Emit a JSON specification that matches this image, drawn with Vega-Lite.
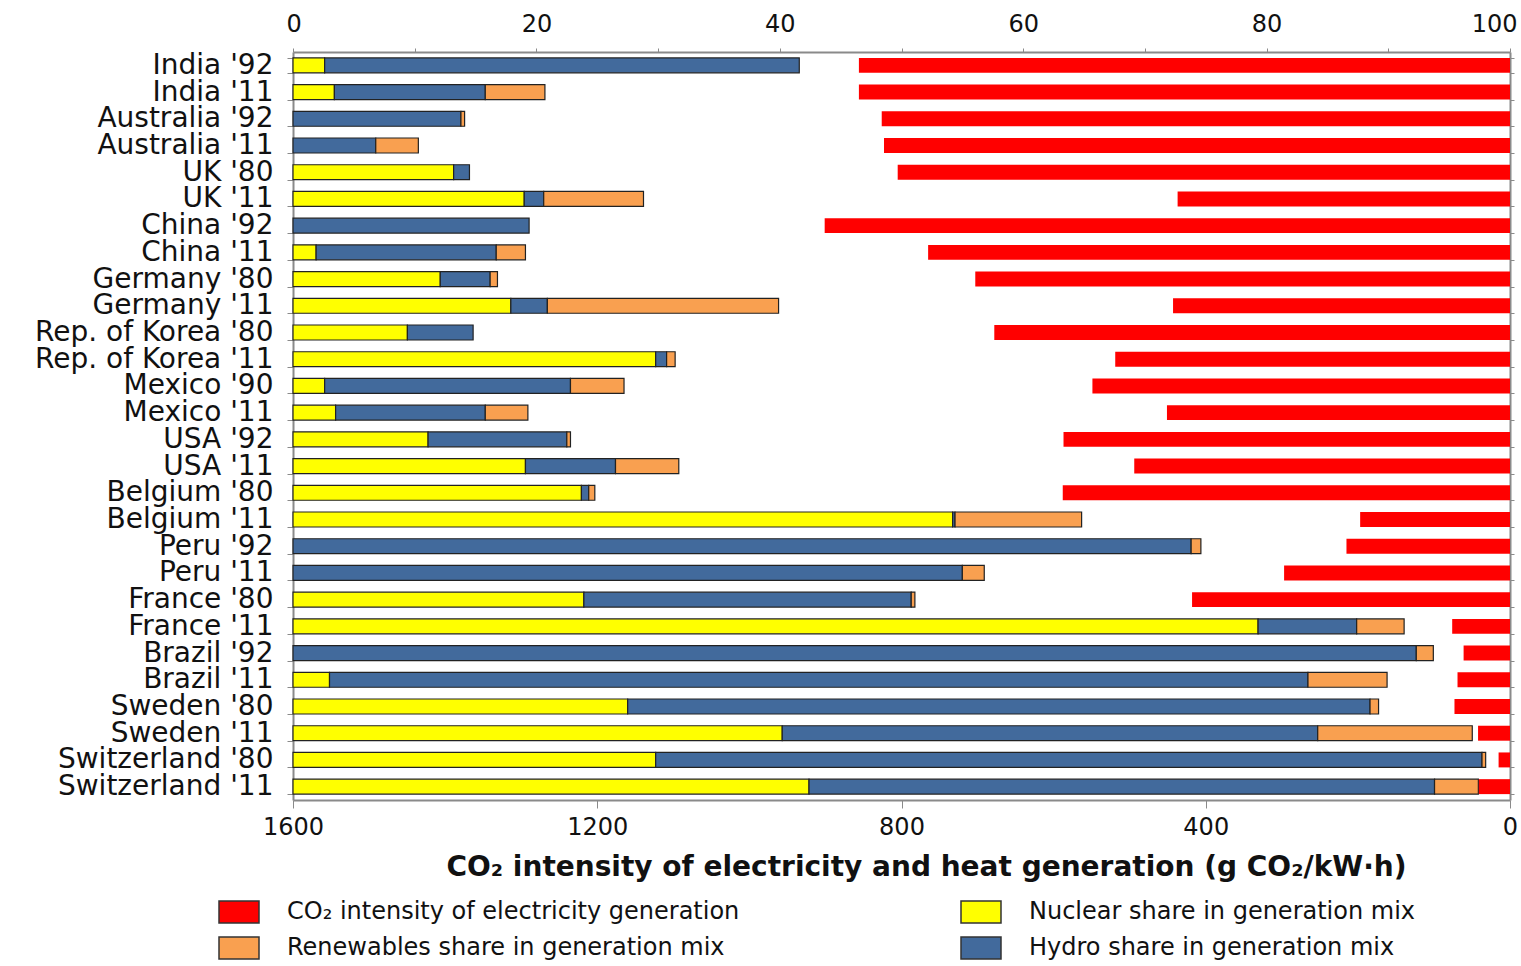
{
"$schema": "https://vega.github.io/schema/vega-lite/v6.json",
"width": 1217,
"height": 748,
"autosize": {"type": "none"},
"padding": {"left": 293, "top": 52, "right": 11, "bottom": 166},
"background": "white",
"config": {
  "font": "DejaVu Sans",
  "view": {"stroke": null},
  "axis": {"labelColor": "#111", "domainColor": "#8a8a8a", "tickColor": "#8a8a8a", "grid": false, "domainWidth": 2, "labelOverlap": false}
},
"datasets": {
  "co2": [
    {"c": "India '92", "g": 856}, {"c": "India '11", "g": 856},
    {"c": "Australia '92", "g": 826}, {"c": "Australia '11", "g": 823},
    {"c": "UK '80", "g": 805}, {"c": "UK '11", "g": 437},
    {"c": "China '92", "g": 901}, {"c": "China '11", "g": 765},
    {"c": "Germany '80", "g": 703}, {"c": "Germany '11", "g": 443},
    {"c": "Rep. of Korea '80", "g": 678}, {"c": "Rep. of Korea '11", "g": 519},
    {"c": "Mexico '90", "g": 549}, {"c": "Mexico '11", "g": 451},
    {"c": "USA '92", "g": 587}, {"c": "USA '11", "g": 494},
    {"c": "Belgium '80", "g": 588}, {"c": "Belgium '11", "g": 197},
    {"c": "Peru '92", "g": 215}, {"c": "Peru '11", "g": 297},
    {"c": "France '80", "g": 418}, {"c": "France '11", "g": 76},
    {"c": "Brazil '92", "g": 61}, {"c": "Brazil '11", "g": 69},
    {"c": "Sweden '80", "g": 73}, {"c": "Sweden '11", "g": 42},
    {"c": "Switzerland '80", "g": 15}, {"c": "Switzerland '11", "g": 41}
  ],
  "shares": [
    {"c": "India '92", "s": "Nuclear", "v": 2.6, "o": 1},
    {"c": "India '92", "s": "Hydro", "v": 39.0, "o": 2},
    {"c": "India '11", "s": "Nuclear", "v": 3.4, "o": 1},
    {"c": "India '11", "s": "Hydro", "v": 12.4, "o": 2},
    {"c": "India '11", "s": "Renewables", "v": 4.9, "o": 3},
    {"c": "Australia '92", "s": "Hydro", "v": 13.8, "o": 2},
    {"c": "Australia '92", "s": "Renewables", "v": 0.3, "o": 3},
    {"c": "Australia '11", "s": "Hydro", "v": 6.8, "o": 2},
    {"c": "Australia '11", "s": "Renewables", "v": 3.5, "o": 3},
    {"c": "UK '80", "s": "Nuclear", "v": 13.2, "o": 1},
    {"c": "UK '80", "s": "Hydro", "v": 1.3, "o": 2},
    {"c": "UK '11", "s": "Nuclear", "v": 19.0, "o": 1},
    {"c": "UK '11", "s": "Hydro", "v": 1.6, "o": 2},
    {"c": "UK '11", "s": "Renewables", "v": 8.2, "o": 3},
    {"c": "China '92", "s": "Hydro", "v": 19.4, "o": 2},
    {"c": "China '11", "s": "Nuclear", "v": 1.9, "o": 1},
    {"c": "China '11", "s": "Hydro", "v": 14.8, "o": 2},
    {"c": "China '11", "s": "Renewables", "v": 2.4, "o": 3},
    {"c": "Germany '80", "s": "Nuclear", "v": 12.1, "o": 1},
    {"c": "Germany '80", "s": "Hydro", "v": 4.1, "o": 2},
    {"c": "Germany '80", "s": "Renewables", "v": 0.6, "o": 3},
    {"c": "Germany '11", "s": "Nuclear", "v": 17.9, "o": 1},
    {"c": "Germany '11", "s": "Hydro", "v": 3.0, "o": 2},
    {"c": "Germany '11", "s": "Renewables", "v": 19.0, "o": 3},
    {"c": "Rep. of Korea '80", "s": "Nuclear", "v": 9.4, "o": 1},
    {"c": "Rep. of Korea '80", "s": "Hydro", "v": 5.4, "o": 2},
    {"c": "Rep. of Korea '11", "s": "Nuclear", "v": 29.8, "o": 1},
    {"c": "Rep. of Korea '11", "s": "Hydro", "v": 0.9, "o": 2},
    {"c": "Rep. of Korea '11", "s": "Renewables", "v": 0.7, "o": 3},
    {"c": "Mexico '90", "s": "Nuclear", "v": 2.6, "o": 1},
    {"c": "Mexico '90", "s": "Hydro", "v": 20.2, "o": 2},
    {"c": "Mexico '90", "s": "Renewables", "v": 4.4, "o": 3},
    {"c": "Mexico '11", "s": "Nuclear", "v": 3.5, "o": 1},
    {"c": "Mexico '11", "s": "Hydro", "v": 12.3, "o": 2},
    {"c": "Mexico '11", "s": "Renewables", "v": 3.5, "o": 3},
    {"c": "USA '92", "s": "Nuclear", "v": 11.1, "o": 1},
    {"c": "USA '92", "s": "Hydro", "v": 11.4, "o": 2},
    {"c": "USA '92", "s": "Renewables", "v": 0.3, "o": 3},
    {"c": "USA '11", "s": "Nuclear", "v": 19.1, "o": 1},
    {"c": "USA '11", "s": "Hydro", "v": 7.4, "o": 2},
    {"c": "USA '11", "s": "Renewables", "v": 5.2, "o": 3},
    {"c": "Belgium '80", "s": "Nuclear", "v": 23.7, "o": 1},
    {"c": "Belgium '80", "s": "Hydro", "v": 0.6, "o": 2},
    {"c": "Belgium '80", "s": "Renewables", "v": 0.5, "o": 3},
    {"c": "Belgium '11", "s": "Nuclear", "v": 54.2, "o": 1},
    {"c": "Belgium '11", "s": "Hydro", "v": 0.2, "o": 2},
    {"c": "Belgium '11", "s": "Renewables", "v": 10.4, "o": 3},
    {"c": "Peru '92", "s": "Hydro", "v": 73.8, "o": 2},
    {"c": "Peru '92", "s": "Renewables", "v": 0.8, "o": 3},
    {"c": "Peru '11", "s": "Hydro", "v": 55.0, "o": 2},
    {"c": "Peru '11", "s": "Renewables", "v": 1.8, "o": 3},
    {"c": "France '80", "s": "Nuclear", "v": 23.9, "o": 1},
    {"c": "France '80", "s": "Hydro", "v": 26.9, "o": 2},
    {"c": "France '80", "s": "Renewables", "v": 0.3, "o": 3},
    {"c": "France '11", "s": "Nuclear", "v": 79.3, "o": 1},
    {"c": "France '11", "s": "Hydro", "v": 8.1, "o": 2},
    {"c": "France '11", "s": "Renewables", "v": 3.9, "o": 3},
    {"c": "Brazil '92", "s": "Hydro", "v": 92.3, "o": 2},
    {"c": "Brazil '92", "s": "Renewables", "v": 1.4, "o": 3},
    {"c": "Brazil '11", "s": "Nuclear", "v": 3.0, "o": 1},
    {"c": "Brazil '11", "s": "Hydro", "v": 80.4, "o": 2},
    {"c": "Brazil '11", "s": "Renewables", "v": 6.5, "o": 3},
    {"c": "Sweden '80", "s": "Nuclear", "v": 27.5, "o": 1},
    {"c": "Sweden '80", "s": "Hydro", "v": 61.0, "o": 2},
    {"c": "Sweden '80", "s": "Renewables", "v": 0.7, "o": 3},
    {"c": "Sweden '11", "s": "Nuclear", "v": 40.2, "o": 1},
    {"c": "Sweden '11", "s": "Hydro", "v": 44.0, "o": 2},
    {"c": "Sweden '11", "s": "Renewables", "v": 12.7, "o": 3},
    {"c": "Switzerland '80", "s": "Nuclear", "v": 29.8, "o": 1},
    {"c": "Switzerland '80", "s": "Hydro", "v": 67.9, "o": 2},
    {"c": "Switzerland '80", "s": "Renewables", "v": 0.3, "o": 3},
    {"c": "Switzerland '11", "s": "Nuclear", "v": 42.4, "o": 1},
    {"c": "Switzerland '11", "s": "Hydro", "v": 51.4, "o": 2},
    {"c": "Switzerland '11", "s": "Renewables", "v": 3.6, "o": 3}
  ]
},
"layer": [
  {
    "data": {"name": "shares"},
    "mark": {"type": "bar", "stroke": "#222", "strokeWidth": 1.2},
    "encoding": {
      "y": {
        "field": "c", "type": "nominal",
        "scale": {"domain": ["India '92","India '11","Australia '92","Australia '11","UK '80","UK '11","China '92","China '11","Germany '80","Germany '11","Rep. of Korea '80","Rep. of Korea '11","Mexico '90","Mexico '11","USA '92","USA '11","Belgium '80","Belgium '11","Peru '92","Peru '11","France '80","France '11","Brazil '92","Brazil '11","Sweden '80","Sweden '11","Switzerland '80","Switzerland '11"], "paddingInner": 0.44, "paddingOuter": 0.22},
        "axis": {"orient": "left", "title": null, "tickBand": "extent", "tickSize": 6, "labelFontSize": 28, "labelPadding": 14, "labelLimit": 0}
      },
      "x": {
        "field": "v", "type": "quantitative", "stack": "zero",
        "scale": {"domain": [0, 100], "nice": false},
        "axis": {"orient": "top", "title": null, "values": [0,10,20,30,40,50,60,70,80,90,100], "labelExpr": "datum.value % 20 === 0 ? datum.label : ''", "tickSize": 4, "labelFontSize": 24, "labelPadding": 12, "labelFlush": true, "labelFlushOffset": 7}
      },
      "color": {
        "field": "s", "type": "nominal",
        "scale": {"domain": ["CO2", "Renewables", "Nuclear", "Hydro"], "range": ["#FF0000", "#F9A050", "#FFFF00", "#426A9C"]},
        "legend": {"title": null, "orient": "none", "legendX": -75, "legendY": 839, "columns": 2, "columnPadding": 218, "rowPadding": 1, "padding": 0, "symbolType": "M-1,-0.55H1V0.55H-1Z", "symbolSize": 1600, "symbolStrokeColor": "#333", "symbolStrokeWidth": 1.5, "labelFontSize": 24, "labelColor": "#111", "labelOffset": 27, "labelLimit": 0, "labelExpr": "datum.label == 'CO2' ? 'CO₂ intensity of electricity generation' : datum.label + ' share in generation mix'"}
      },
      "order": {"field": "o", "type": "quantitative"}
    }
  },
  {
    "data": {"name": "co2"},
    "mark": {"type": "bar"},
    "encoding": {
      "y": {
        "field": "c", "type": "nominal",
        "scale": {"domain": ["India '92","India '11","Australia '92","Australia '11","UK '80","UK '11","China '92","China '11","Germany '80","Germany '11","Rep. of Korea '80","Rep. of Korea '11","Mexico '90","Mexico '11","USA '92","USA '11","Belgium '80","Belgium '11","Peru '92","Peru '11","France '80","France '11","Brazil '92","Brazil '11","Sweden '80","Sweden '11","Switzerland '80","Switzerland '11"], "paddingInner": 0.44, "paddingOuter": 0.22},
        "axis": {"orient": "right", "title": null, "labels": false, "tickBand": "extent", "tickSize": 4}
      },
      "x": {
        "field": "g", "type": "quantitative",
        "scale": {"domain": [0, 1600], "reverse": true, "nice": false},
        "axis": {"orient": "bottom", "values": [0, 400, 800, 1200, 1600], "format": "d", "tickSize": 8, "labelFontSize": 24, "labelPadding": 7, "labelFlush": false, "title": "CO₂ intensity of electricity and heat generation (g CO₂/kW·h)", "titleFontSize": 28, "titleFontWeight": "bold", "titleColor": "#111", "titleX": 633, "titlePadding": 14}
      },
      "color": {
        "datum": "CO2", "type": "nominal",
        "legend": {"title": null, "orient": "none", "legendX": -75, "legendY": 839, "columns": 2, "columnPadding": 218, "rowPadding": 1, "padding": 0, "symbolType": "M-1,-0.55H1V0.55H-1Z", "symbolSize": 1600, "symbolStrokeColor": "#333", "symbolStrokeWidth": 1.5, "labelFontSize": 24, "labelColor": "#111", "labelOffset": 27, "labelLimit": 0, "labelExpr": "datum.label == 'CO2' ? 'CO₂ intensity of electricity generation' : datum.label + ' share in generation mix'"}
      }
    }
  }
],
"resolve": {"scale": {"x": "independent"}, "axis": {"x": "independent", "y": "independent"}}
}
